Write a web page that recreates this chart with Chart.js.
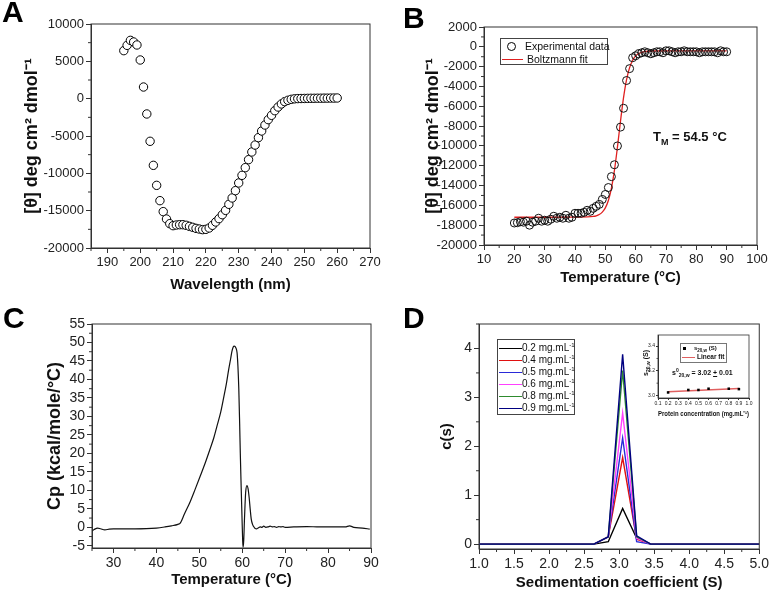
<!DOCTYPE html>
<html>
<head>
<meta charset="utf-8">
<script src="https://cdn.jsdelivr.net/npm/chart.js@4.4.1/dist/chart.umd.min.js"></script>
<style>
    body { margin: 0; background: #fff; }
    #page { position: relative; width: 771px; height: 595px; overflow: hidden; background: #fff; font-family: Arial, "Liberation Sans", sans-serif; color: #111; }
    canvas { position: absolute; }
    .panel { position: absolute; font: bold 30px Arial, "Liberation Sans", sans-serif; line-height: 30px; color: #000; }
    .txt { position: absolute; white-space: nowrap; }
    .box { position: absolute; border: 1px solid #444; box-sizing: border-box; }
    .swatch { position: absolute; height: 0; }
    sup, sub { line-height: 0; }
</style>
</head>
<body>
<div id="page">
    <canvas id="chartA" width="385" height="298" style="left:0;top:0"></canvas>
    <canvas id="chartB" width="386" height="298" style="left:385px;top:0"></canvas>
    <canvas id="chartC" width="385" height="297" style="left:0;top:298px"></canvas>
    <canvas id="chartD" width="386" height="297" style="left:385px;top:298px"></canvas>
    <canvas id="chartInset" width="124" height="92" style="left:636px;top:330px"></canvas>

    <div class="panel" style="left:2px;top:-3px">A</div>
    <div class="panel" style="left:403px;top:3px">B</div>
    <div class="panel" style="left:3px;top:303px">C</div>
    <div class="panel" style="left:403px;top:303px">D</div>

    <!-- legend B -->
    <div class="box" style="left:500px;top:38px;width:108px;height:27px"></div>
    <div style="position:absolute;left:507px;top:42px;width:9px;height:9px;border:1px solid #000;border-radius:50%;box-sizing:border-box"></div>
    <div class="txt" style="left:525px;top:40px;font-size:10.5px;line-height:12px">Experimental data</div>
    <div class="swatch" style="left:502px;top:59px;width:21px;border-top:1.5px solid #e02020"></div>
    <div class="txt" style="left:527px;top:53px;font-size:10.5px;line-height:12px">Boltzmann fit</div>

    <div class="txt" style="left:653px;top:129px;font-weight:bold;font-size:13px;line-height:16px">T<sub style="font-size:9px">M</sub> = 54.5 °C</div>

    <!-- legend D -->
    <div class="box" id="legendD" style="left:497px;top:339px;width:78px;height:76px"></div>

    <!-- inset texts -->
    <div class="box" style="left:680px;top:343px;width:47px;height:20px;border-color:#777"></div>
    <div style="position:absolute;left:683px;top:347px;width:3px;height:3px;background:#000"></div>
    <div class="txt" style="left:694px;top:344px;font-weight:bold;font-size:6px;line-height:8px">s<sub style="font-size:4.5px">20,w</sub> (S)</div>
    <div class="swatch" style="left:682px;top:357px;width:13px;border-top:1.5px solid #e06060"></div>
    <div class="txt" style="left:697px;top:353px;font-weight:bold;font-size:6.5px;line-height:8px">Linear fit</div>
    <div class="txt" style="left:672px;top:368px;font-weight:bold;font-size:7px;line-height:10px">s<sup style="font-size:5px">0</sup><sub style="font-size:5px">20,w</sub> = 3.02 <u>+</u> 0.01</div>
    <div class="txt" style="left:645px;top:363px;transform:translate(-50%,-50%) rotate(-90deg);font-weight:bold;font-size:7px;line-height:9px">s<sub style="font-size:5px">20,w</sub> (S)</div>
</div>

<script>
// A: far-UV CD spectrum
const cdWavelength = [195,196,197,198,199,200,201,202,203,204,205,206,207,208,209,210,211,212,213,214,215,216,217,218,219,220,
    221,222,223,224,225,226,227,228,229,230,231,232,233,234,235,236,237,238,239,240,241,242,243,244,245,246,247,248,249,250,
    251,252,253,254,255,256,257,258,259,260];
const cdEllipticity = [6430,7140,7810,7590,7190,5180,1560,-2050,-5710,-8930,-11610,-13660,-15130,-16120,-16740,-17010,-16920,
    -16880,-16880,-16960,-17100,-17230,-17370,-17460,-17540,-17500,-17320,-16960,-16520,-16070,-15540,-14960,-14150,-13300,
    -12320,-11290,-10270,-9240,-8170,-7140,-6210,-5220,-4330,-3530,-2810,-2230,-1610,-1120,-710,-400,-220,-90,-20,10,20,30,
    40,50,50,60,60,70,70,80,80,90];
const cdXTicks = [190,200,210,220,230,240,250,260,270];
const cdYTicks = [-20000,-15000,-10000,-5000,0,5000,10000];

// B: thermal unfolding followed by CD
const meltTemp = [20,21,22,23,24,25,26,27,28,29,30,31,32,33,34,35,36,37,38,39,40,41,42,43,44,45,46,47,48,49,50,51,52,53,54,55,
    56,57,58,59,60,61,62,63,64,65,66,67,68,69,70,71,72,73,74,75,76,77,78,79,80,81,82,83,84,85,86,87,88,89,90];
const meltEllipticity = [-17780,-17750,-17650,-17700,-17600,-18000,-17700,-17600,-17300,-17600,-17500,-17600,-17400,-17100,
    -17300,-17200,-17300,-17000,-17300,-17200,-16800,-16800,-16800,-16700,-16500,-16600,-16300,-16100,-15900,-15400,-14900,
    -14200,-13100,-11900,-10000,-8100,-6200,-3400,-2200,-1100,-900,-700,-600,-500,-600,-700,-600,-500,-500,-600,-400,-400,
    -500,-600,-500,-500,-400,-500,-500,-500,-500,-600,-500,-500,-500,-500,-500,-600,-400,-500,-500];
const fitTemp = [20,30,40,44,46,47,48,49,50,51,52,53,54,55,56,57,58,59,60,61,62,63,65,70,80,90];
const fitEllipticity = [-17200,-17200,-17190,-17170,-17120,-17050,-16920,-16680,-16250,-15510,-14290,-12470,-10100,-7500,
    -5130,-3310,-2100,-1350,-920,-680,-550,-480,-420,-400,-400,-400];
const meltXTicks = [10,20,30,40,50,60,70,80,90,100];
const meltYTicks = [-20000,-18000,-16000,-14000,-12000,-10000,-8000,-6000,-4000,-2000,0,2000];

// C: DSC thermogram
const dscTemp = [25,25.5,26.3,27,28,29,30,35,40,42,43.5,45,45.6,46.5,47.9,49,50.2,51.5,52.6,53.4,54.1,55,55.7,56.3,56.8,57.3,
    57.6,57.9,58.15,58.5,58.8,59,59.2,59.4,59.55,59.75,59.95,60.1,60.2,60.35,60.5,60.65,60.8,61.1,61.35,61.6,61.85,62.1,62.4,
    62.65,63,63.4,63.8,64.2,64.6,65,65.5,66,66.5,67,67.5,68,68.5,69,69.5,70,72,75,78,80,82,84,85,86,88,89.7];
const dscCp = [-1.0,-0.6,-0.2,-0.4,-0.7,-0.5,-0.4,-0.4,-0.2,0.1,0.4,0.8,1.2,3.5,7.0,10.2,13.8,17.8,21.5,24.3,27.3,31.2,35.2,
    38.8,42.4,45.6,47.6,48.8,49.0,48.6,47.2,43.5,37.5,28,20,11,2.5,-3.5,-5.4,-3.5,1.5,6,9.5,11.3,10.5,8.2,5,2.2,0.8,0.2,-0.3,
    -0.4,-0.1,0.1,0.0,0.3,0.0,0.1,0.3,0.1,0.2,0.0,0.2,0.1,0.2,0.0,0.1,0.2,0.1,0.1,0.1,0.1,0.4,0.0,-0.2,-0.5];
const dscXTicks = [30,40,50,60,70,80,90];
const dscYTicks = [-5,0,5,10,15,20,25,30,35,40,45,50,55];

// D: sedimentation velocity c(s) distributions
const sedCoeff = [1.0,2.64,2.845,3.05,3.25,3.45,5.0];
const concLabels = ['0.2','0.4','0.5','0.6','0.8','0.9'];
const concColors = ['#000000','#e01010','#2a2ad8','#ff40ff','#2e8b2e','#000080'];
const cs02 = [0,0,0.05,0.73,0.12,0,0];
const cs04 = [0,0,0.15,1.77,0.10,0,0];
const cs05 = [0,0,0.15,2.17,0.05,0,0];
const cs06 = [0,0,0.15,2.68,0.12,0,0];
const cs08 = [0,0,0.15,3.55,0.15,0,0];
const cs09 = [0,0,0.15,3.88,0.17,0,0];
const sedXTicks = [1.0,1.5,2.0,2.5,3.0,3.5,4.0,4.5,5.0];
const sedYTicks = [0,1,2,3,4];

// D inset: s20,w vs concentration
const insetConc = [0.2,0.4,0.5,0.6,0.8,0.9];
const insetS20w = [3.025,3.045,3.045,3.055,3.055,3.052];
const insetFitConc = [0.2,0.9];
const insetFitS = [3.03,3.056];
const insetXTicks = [0.1,0.2,0.3,0.4,0.5,0.6,0.7,0.8,0.9,1.0];
const insetYTicks = [3.0,3.2,3.4];

Chart.defaults.font.family = 'Arial, "Liberation Sans", sans-serif';
Chart.defaults.color = '#222';
Chart.defaults.animation = false;

function pairs(xs, ys) {
    return xs.map((x, i) => ({ x: x, y: ys[i] }));
}

// minor ticks halfway between the major ones, kept inside the axis range
function minorTicks(major, min, max) {
    const step = major[1] - major[0];
    const out = [major[0] - step / 2];
    major.forEach(v => out.push(v + step / 2));
    return out.filter(v => v >= min && v <= max);
}

// Origin-like box around the plot plus short outward minor ticks
const framePlugin = {
    id: 'frame',
    afterDraw(chart, args, opts) {
        const { ctx, chartArea: a, scales } = chart;
        ctx.save();
        ctx.strokeStyle = '#333';
        ctx.lineWidth = opts.lineWidth || 1;
        ctx.strokeRect(a.left, a.top, a.right - a.left, a.bottom - a.top);
        const len = opts.minorLen || 3;
        ctx.beginPath();
        (opts.minorX || []).forEach(v => {
            const px = scales.x.getPixelForValue(v);
            ctx.moveTo(px, a.bottom);
            ctx.lineTo(px, a.bottom + len);
        });
        (opts.minorY || []).forEach(v => {
            const py = scales.y.getPixelForValue(v);
            ctx.moveTo(a.left, py);
            ctx.lineTo(a.left - len, py);
        });
        ctx.stroke();
        ctx.restore();
    }
};

function makeAxis(o) {
    return {
        type: 'linear',
        min: o.min,
        max: o.max,
        border: { display: true, color: '#333', width: 1 },
        grid: { display: true, drawOnChartArea: false, drawTicks: true, tickLength: o.tickLen || 5, color: '#333' },
        ticks: {
            font: { size: o.tickSize || 13 },
            color: '#222',
            padding: o.tickPad === undefined ? 2 : o.tickPad,
            maxRotation: 0,
            autoSkip: false,
            callback: o.fmt || (v => String(v))
        },
        title: o.title ? {
            display: true,
            text: o.title,
            font: { size: o.titleSize || 15, weight: 'bold' },
            color: '#111',
            padding: o.titlePad || { top: 4, bottom: 4 }
        } : { display: false },
        afterBuildTicks: s => { s.ticks = o.ticks.map(v => ({ value: v })); },
        afterFit: s => {
            if (o.width) s.width = o.width;
            if (o.height) s.height = o.height;
        }
    };
}

function baseOptions(padding, xAxis, yAxis, frame) {
    return {
        responsive: false,
        animation: false,
        events: [],
        layout: { padding: padding },
        scales: { x: xAxis, y: yAxis },
        plugins: { legend: { display: false }, tooltip: { enabled: false }, frame: frame }
    };
}

// Panel A
new Chart(document.getElementById('chartA').getContext('2d'), {
    type: 'line',
    data: {
        datasets: [{
            data: pairs(cdWavelength, cdEllipticity),
            showLine: false,
            pointRadius: 4.2,
            pointBorderWidth: 1,
            pointBorderColor: '#000',
            pointBackgroundColor: '#fff'
        }]
    },
    options: baseOptions(
        { left: 17, top: 24, right: 15, bottom: 0 },
        makeAxis({ min: 185, max: 270, ticks: cdXTicks, height: 50, title: 'Wavelength (nm)' }),
        makeAxis({ min: -20000, max: 10000, ticks: cdYTicks, width: 74, title: '[θ] deg cm² dmol⁻¹', titleSize: 18 }),
        { minorX: minorTicks(cdXTicks, 185, 270), minorY: minorTicks(cdYTicks, -20000, 10000) }
    ),
    plugins: [framePlugin]
});

// Panel B
new Chart(document.getElementById('chartB').getContext('2d'), {
    type: 'line',
    data: {
        datasets: [
            {
                data: pairs(meltTemp, meltEllipticity),
                showLine: false,
                pointRadius: 4,
                pointBorderWidth: 1,
                pointBorderColor: '#111',
                pointBackgroundColor: 'rgba(255,255,255,0)'
            },
            {
                data: pairs(fitTemp, fitEllipticity),
                borderColor: '#e02020',
                borderWidth: 1.3,
                pointRadius: 0,
                cubicInterpolationMode: 'monotone'
            }
        ]
    },
    options: baseOptions(
        { left: 33, top: 27, right: 14, bottom: 7 },
        makeAxis({ min: 10, max: 100, ticks: meltXTicks, height: 46, title: 'Temperature (°C)' }),
        makeAxis({ min: -20000, max: 2000, ticks: meltYTicks, width: 66, title: '[θ] deg cm² dmol⁻¹', titleSize: 18 }),
        { minorX: minorTicks(meltXTicks, 10, 100), minorY: minorTicks(meltYTicks, -20000, 2000) }
    ),
    plugins: [framePlugin]
});

// Panel C
new Chart(document.getElementById('chartC').getContext('2d'), {
    type: 'line',
    data: {
        datasets: [{
            data: pairs(dscTemp, dscCp),
            borderColor: '#111',
            borderWidth: 1.2,
            pointRadius: 0,
            cubicInterpolationMode: 'monotone'
        }]
    },
    options: baseOptions(
        { left: 40, top: 26, right: 14, bottom: 2 },
        makeAxis({ min: 25, max: 90, ticks: dscXTicks, height: 45, tickSize: 14, title: 'Temperature (°C)' }),
        makeAxis({ min: -5.6, max: 55, ticks: dscYTicks, width: 52, tickSize: 14, title: 'Cp (kcal/mole/°C)', titleSize: 18 }),
        { minorX: minorTicks(dscXTicks, 25, 90), minorY: minorTicks(dscYTicks, -5.6, 55) }
    ),
    plugins: [framePlugin]
});

// Panel D
const csSeries = [cs02, cs04, cs05, cs06, cs08, cs09];
new Chart(document.getElementById('chartD').getContext('2d'), {
    type: 'line',
    data: {
        datasets: csSeries.map((ys, i) => ({
            label: concLabels[i] + ' mg.mL-1',
            data: pairs(sedCoeff, ys),
            borderColor: concColors[i],
            borderWidth: 1.4,
            pointRadius: 0,
            order: csSeries.length - i
        }))
    },
    options: baseOptions(
        { left: 49, top: 26, right: 10, bottom: 2 },
        makeAxis({ min: 1.0, max: 5.0, ticks: sedXTicks, height: 44, tickSize: 14, fmt: v => v.toFixed(1),
            title: 'Sedimentation coefficient (S)', titlePad: { top: 4, bottom: 1 } }),
        makeAxis({ min: -0.1, max: 4.5, ticks: sedYTicks, width: 45, tickSize: 14, title: 'c(s)' }),
        { minorX: minorTicks(sedXTicks, 1.0, 5.0), minorY: minorTicks(sedYTicks, -0.1, 4.5) }
    ),
    plugins: [framePlugin]
});

// legend for D, from the same labels and colours
const legendD = document.getElementById('legendD');
concLabels.forEach((lab, i) => {
    const y = 8 + i * 12;
    const line = document.createElement('div');
    line.className = 'swatch';
    line.style.cssText = `left:1px;top:${y}px;width:23px;border-top:1.5px solid ${concColors[i]}`;
    legendD.appendChild(line);
    const t = document.createElement('div');
    t.className = 'txt';
    t.style.cssText = `left:24px;top:${y - 6}px;font-size:10px;line-height:12px`;
    t.innerHTML = `${lab} mg.mL<sup style="font-size:6px">-1</sup>`;
    legendD.appendChild(t);
});

// Inset in D
new Chart(document.getElementById('chartInset').getContext('2d'), {
    type: 'line',
    data: {
        datasets: [
            {
                data: pairs(insetConc, insetS20w),
                showLine: false,
                pointStyle: 'rect',
                pointRadius: 1.8,
                pointBorderWidth: 0,
                pointBackgroundColor: '#000'
            },
            {
                data: pairs(insetFitConc, insetFitS),
                borderColor: '#e06060',
                borderWidth: 1.5,
                pointRadius: 0
            }
        ]
    },
    options: baseOptions(
        { left: 4, top: 5, right: 11, bottom: 4 },
        makeAxis({ min: 0.1, max: 1.0, ticks: insetXTicks, height: 20, tickSize: 5, tickLen: 2, tickPad: 1,
            fmt: v => v.toFixed(1), title: 'Protein concentration (mg.mL⁻¹)', titleSize: 7, titlePad: { top: 0, bottom: 0 } }),
        makeAxis({ min: 2.98, max: 3.49, ticks: insetYTicks, width: 18, tickSize: 5, tickLen: 2, tickPad: 1,
            fmt: v => v.toFixed(1) }),
        { minorY: [3.1, 3.3], minorLen: 1.5, lineWidth: 0.8 }
    ),
    plugins: [framePlugin]
});
</script>
</body>
</html>
